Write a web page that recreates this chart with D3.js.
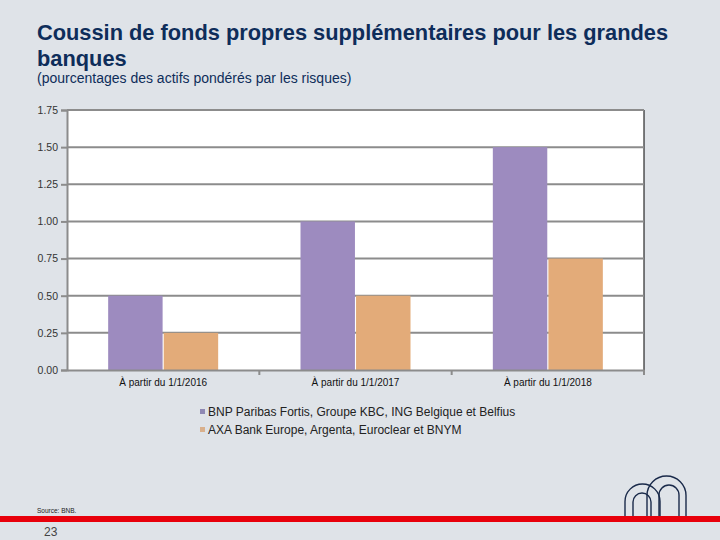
<!DOCTYPE html>
<html><head><meta charset="utf-8">
<script src="https://cdn.jsdelivr.net/npm/d3@7"></script>
<style>body{margin:0;background:#dfe3e8;}svg{display:block;font-family:"Liberation Sans",Arial,sans-serif;}</style>
</head><body>
<svg id="c" width="720" height="540"></svg>
<script>
const categories = ["À partir du 1/1/2016", "À partir du 1/1/2017", "À partir du 1/1/2018"];
const seriesNames = ["BNP Paribas Fortis, Groupe KBC, ING Belgique et Belfius", "AXA Bank Europe, Argenta, Euroclear et BNYM"];
const seriesA = [0.5, 1.0, 1.5];
const seriesB = [0.25, 0.5, 0.75];
const yTicks = [0, 0.25, 0.5, 0.75, 1.0, 1.25, 1.5, 1.75];
const colors = ["#9d8bbf", "#e3ab79"];
const legendColors = ["#8f89b4", "#d9b08c"];

const svg = d3.select("#c");
svg.append("rect").attr("width",720).attr("height",540).attr("fill","#dfe3e8");

svg.append("text").attr("x",37).attr("y",40).attr("fill","#0e2d5a").attr("font-size",21.8).attr("font-weight","bold")
  .text("Coussin de fonds propres supplémentaires pour les grandes");
svg.append("text").attr("x",37).attr("y",66).attr("fill","#0e2d5a").attr("font-size",21.8).attr("font-weight","bold")
  .text("banques");
svg.append("text").attr("x",37).attr("y",83).attr("fill","#0e2d5a").attr("font-size",14)
  .text("(pourcentages des actifs pondérés par les risques)");

const L=67,R=644,T=110,B=370;
const x = d3.scaleBand().domain(categories).range([L,R]);
const y = d3.scaleLinear().domain([0,1.75]).range([B,T]);
const inner = d3.scaleBand().domain([0,1]).range([0,110]).paddingInner(0.02);

svg.append("rect").attr("x",L).attr("y",T).attr("width",R-L).attr("height",B-T).attr("fill","#fff");
svg.append("line").attr("x1",R).attr("x2",R).attr("y1",T).attr("y2",B).attr("stroke","#000").attr("stroke-width",1);

const gy = svg.append("g").attr("transform",`translate(${L},0)`)
  .call(d3.axisLeft(y).tickValues(yTicks).tickFormat(d3.format(".2f")).tickSize(6).tickPadding(3));
gy.select(".domain").attr("stroke","#8c8c8c").attr("stroke-width",2);
gy.selectAll(".tick line").attr("stroke","#8c8c8c").attr("stroke-width",2);
gy.selectAll(".tick text").attr("font-size",10.5).attr("fill","#333").attr("font-family","Liberation Sans, Arial");
// gridlines
svg.append("g").selectAll("line").data(yTicks.filter(d=>d>0)).join("line")
  .attr("x1",L).attr("x2",R).attr("y1",d=>y(d)).attr("y2",d=>y(d)).attr("stroke","#8c8c8c").attr("stroke-width",2);

const data = categories.map((c,i)=>({c, v:[seriesA[i], seriesB[i]]}));
const g = svg.append("g");
data.forEach(d=>{
  d.v.forEach((v,j)=>{
    g.append("rect").attr("x",x(d.c)+x.bandwidth()/2-55+inner(j)).attr("y",y(v))
      .attr("width",inner.bandwidth()).attr("height",B-y(v)).attr("fill",colors[j]);
  });
});

const gx = svg.append("g").attr("transform",`translate(0,${B})`)
  .call(d3.axisBottom(x).tickSize(0).tickPadding(9));
gx.select(".domain").attr("stroke","#8c8c8c").attr("stroke-width",2);
gx.selectAll(".tick text").attr("font-size",10).attr("fill","#111").attr("font-family","Liberation Sans, Arial");
// category separator ticks
svg.append("g").selectAll("line").data(categories.slice(1)).join("line")
  .attr("x1",d=>x(d)).attr("x2",d=>x(d)).attr("y1",B).attr("y2",B+5).attr("stroke","#8c8c8c").attr("stroke-width",2);
svg.append("line").attr("x1",R).attr("x2",R).attr("y1",B).attr("y2",B+5).attr("stroke","#8c8c8c").attr("stroke-width",2);

const lg = svg.append("g");
seriesNames.forEach((n,i)=>{
  lg.append("rect").attr("x",200).attr("y",409+i*18).attr("width",5).attr("height",5).attr("fill",legendColors[i]);
  lg.append("text").attr("x",208).attr("y",416+i*18).attr("font-size",12).attr("fill","#222").text(n);
});

svg.append("text").attr("x",37).attr("y",513).attr("font-size",6.5).attr("fill","#222").text("Source: BNB.");
svg.append("rect").attr("x",0).attr("y",516).attr("width",720).attr("height",6).attr("fill","#e8000b");
svg.append("text").attr("x",44).attr("y",536).attr("font-size",12).attr("fill","#444").text("23");

// logo arches
const arch = (x0,x1,top,bot)=>{const r=(x1-x0)/2;return `M${x0},${bot} L${x0},${top+r} A${r},${r} 0 0 1 ${x1},${top+r} L${x1},${bot}`;};
const logo = svg.append("g").attr("fill","none").attr("stroke","#1a2a4a").attr("stroke-width",1.4);
[[647,686,476],[659,679,485],[625,660,484],[633,651,493]].forEach(a=>{
  logo.append("path").attr("d",arch(a[0],a[1],a[2],516));
});
</script>
</body></html>
